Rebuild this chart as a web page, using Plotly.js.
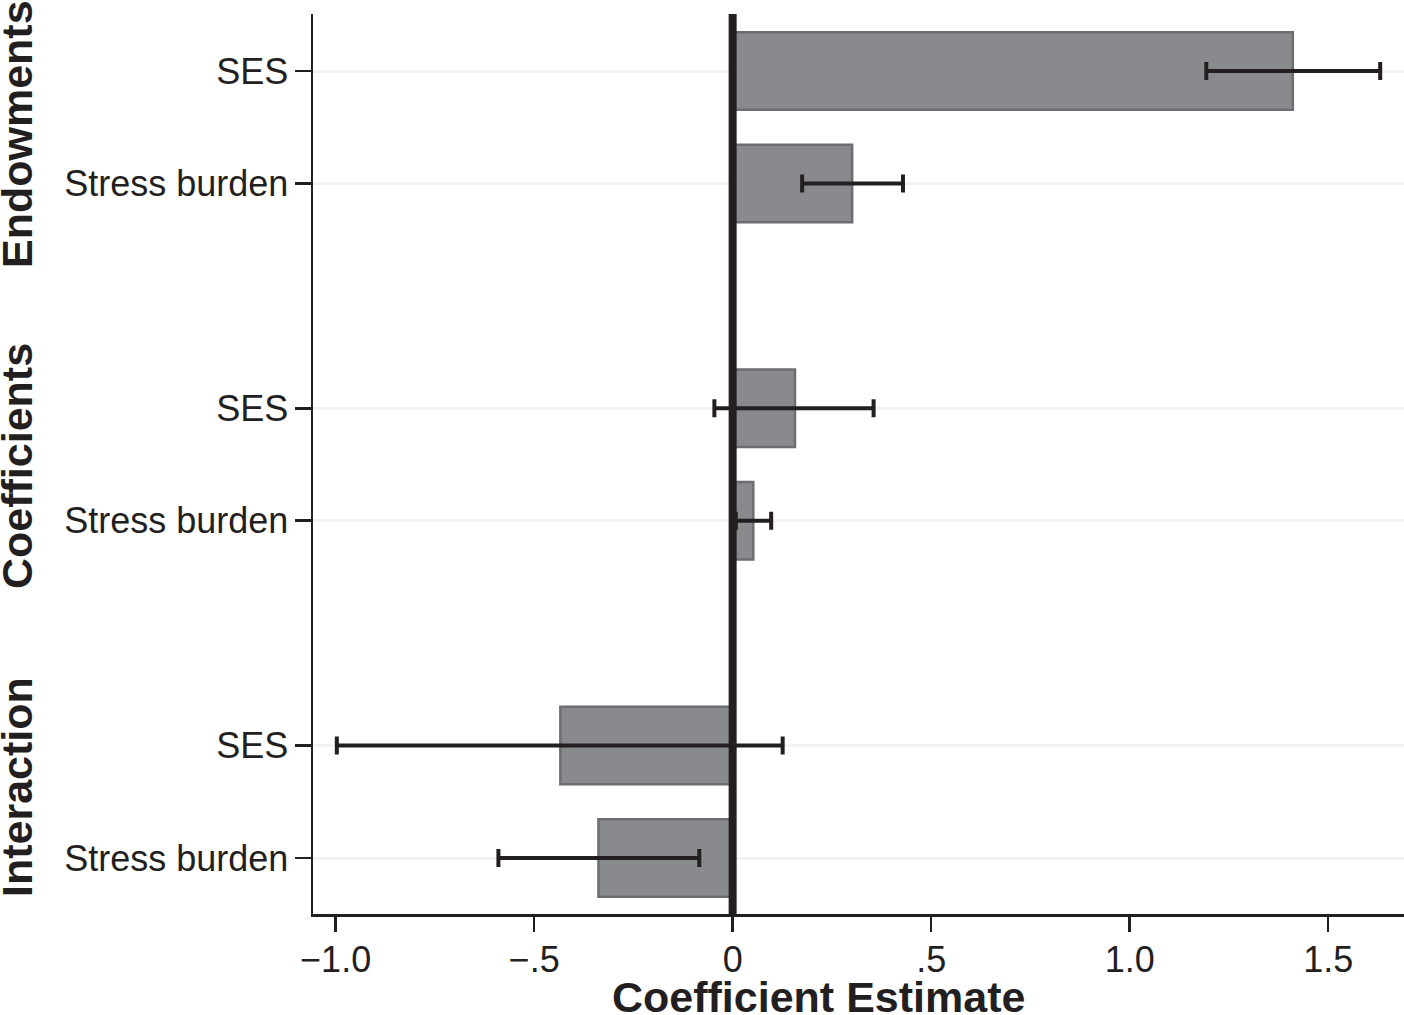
<!DOCTYPE html>
<html>
<head>
<meta charset="utf-8">
<script src="https://cdn.plot.ly/plotly-3.0.1.min.js"></script>
<style>html,body{margin:0;padding:0;background:#fff;}#chart{width:1404px;height:1015px;}</style>
</head>
<body>
<div id="chart"></div>
<script>
// ---- data ----
var groups = ['Endowments', 'Coefficients', 'Interaction'];
var categories = ['SES', 'Stress burden', 'SES', 'Stress burden', 'SES', 'Stress burden'];
var groupOf = [0, 0, 1, 1, 2, 2];
var estimates = [1.411, 0.301, 0.157, 0.052, -0.434, -0.338];
var ciLow = [1.193, 0.175, -0.046, 0.008, -0.997, -0.590];
var ciHigh = [1.631, 0.429, 0.355, 0.097, 0.126, -0.084];
var xTickVals = [-1, -0.5, 0, 0.5, 1, 1.5];
var xTickText = ['\u22121.0', '\u2212.5', '0', '.5', '1.0', '1.5'];

// slot index: each group takes 3 slots (2 rows + an empty gap)
var yPos = categories.map(function (c, i) {
  var within = i - groupOf.indexOf(groupOf[i]);
  return groupOf[i] * 3 + within;
});

var ink = '#231f20';
var font = 'Liberation Sans, Arial, Helvetica, sans-serif';

var trace = {
  type: 'bar',
  orientation: 'h',
  x: estimates,
  y: yPos,
  width: 0.69,
  marker: { color: '#898a8d', line: { color: '#6d6e70', width: 2.5 } },
  error_x: {
    type: 'data',
    symmetric: false,
    array: estimates.map(function (v, i) { return ciHigh[i] - v; }),
    arrayminus: estimates.map(function (v, i) { return v - ciLow[i]; }),
    color: ink,
    thickness: 4,
    width: 9
  },
  hoverinfo: 'x+y'
};

var groupLabelPos = [134, 466, 787];
var annotations = groups.map(function (g, i) {
  return {
    text: '<b>' + g + '</b>', xref: 'paper', yref: 'paper',
    x: (17 - 313) / 1091, y: 1 - (groupLabelPos[i] - 14) / 900,
    xanchor: 'center', yanchor: 'middle', textangle: -90, showarrow: false,
    borderpad: 0,
    font: { family: font, size: 43, color: ink }
  };
});
annotations.push({
  text: '<b>Coefficient Estimate</b>', xref: 'paper', yref: 'paper',
  x: (818 - 313) / 1091, y: -(997 - 914) / 900,
  xanchor: 'center', yanchor: 'middle', showarrow: false,
  font: { family: font, size: 43, color: ink }
});

var layout = {
  width: 1404, height: 1015,
  margin: { l: 313, r: 0, t: 14, b: 101, pad: 0 },
  paper_bgcolor: '#fff', plot_bgcolor: '#fff',
  showlegend: false,
  bargap: 0,
  font: { family: font, size: 36, color: ink },
  xaxis: {
    range: [-1.057, 1.691],
    tickmode: 'array', tickvals: xTickVals, ticktext: xTickText,
    ticks: 'outside', ticklen: 15, tickwidth: 2.5, tickcolor: ink,
    showline: true, linecolor: ink, linewidth: 2.5,
    showgrid: false, zeroline: false, ticklabelstandoff: -3,
    tickfont: { family: font, size: 36, color: ink }
  },
  yaxis: {
    range: [7.498, -0.507],
    tickmode: 'array', tickvals: yPos, ticktext: categories,
    ticks: 'outside', ticklen: 16, tickwidth: 2.5, tickcolor: ink,
    showline: true, linecolor: ink, linewidth: 2.5,
    showgrid: true, gridcolor: '#f3f3f3', gridwidth: 3,
    zeroline: false, ticklabelstandoff: -1,
    tickfont: { family: font, size: 36, color: ink }
  },
  shapes: [{
    type: 'line', xref: 'x', yref: 'paper', x0: 0, x1: 0, y0: 0, y1: 1,
    line: { color: ink, width: 8 }, layer: 'above'
  }],
  annotations: annotations
};

Plotly.newPlot('chart', [trace], layout, { displayModeBar: false, staticPlot: true });
</script>
</body>
</html>
